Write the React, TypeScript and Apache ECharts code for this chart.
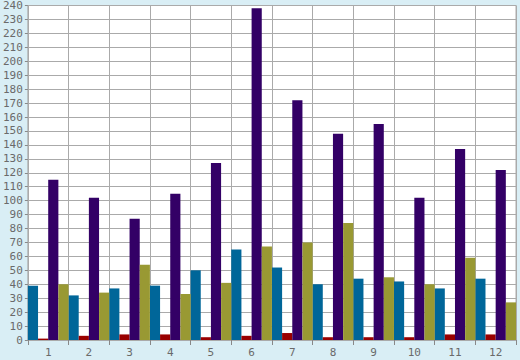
import React, { useEffect, useRef } from "react";
import * as echarts from "echarts";

const categories = ["1", "2", "3", "4", "5", "6", "7", "8", "9", "10", "11", "12"];
const blueValues = [39, 32, 37, 39, 50, 65, 52, 40, 44, 42, 37, 44];
const redValues = [1, 3, 4, 4, 2, 3, 5, 2, 2, 2, 4, 4];
const purpleValues = [115, 102, 87, 105, 127, 238, 172, 148, 155, 102, 137, 122];
const oliveValues = [40, 34, 54, 33, 41, 67, 70, 84, 45, 40, 59, 27];

export default function App() {
  const ref = useRef<HTMLDivElement>(null);
  useEffect(() => {
    if (!ref.current) return;
    const chart = echarts.init(ref.current, undefined, { renderer: "svg" });
    const mk = (name: string, data: number[], color: string) => ({
      name,
      type: "bar",
      data,
      barGap: "0%",
      barCategoryGap: "0%",
      itemStyle: { color },
    });
    chart.setOption({
      animation: false,
      backgroundColor: "#d9eef5",
      grid: {
        left: 26,
        right: 4,
        top: 5,
        bottom: 20,
        show: true,
        backgroundColor: "#ffffff",
        borderColor: "#aaaaaa",
        borderWidth: 1,
      },
      xAxis: {
        type: "category",
        data: categories,
        axisLine: { show: true, lineStyle: { color: "#aaaaaa" } },
        axisTick: { show: true, length: 5, lineStyle: { color: "#888888" } },
        splitLine: { show: true, lineStyle: { color: "#aaaaaa", width: 1 } },
        axisLabel: {
          color: "#6a6a6a",
          fontFamily: "DejaVu Sans Mono",
          fontSize: 11,
          margin: 7,
        },
      },
      yAxis: {
        type: "value",
        min: 0,
        max: 240,
        interval: 10,
        axisLine: { show: true, lineStyle: { color: "#aaaaaa" } },
        axisTick: { show: true, length: 3, lineStyle: { color: "#888888" } },
        splitLine: { show: true, lineStyle: { color: "#aaaaaa", width: 1 } },
        axisLabel: {
          color: "#6a6a6a",
          fontFamily: "DejaVu Sans Mono",
          fontSize: 11,
          margin: 5,
        },
      },
      series: [
        mk("Blue", blueValues, "#006699"),
        mk("Red", redValues, "#990000"),
        mk("Purple", purpleValues, "#330066"),
        mk("Olive", oliveValues, "#999933"),
      ],
    });
    return () => chart.dispose();
  }, []);
  return (
    <div
      ref={ref}
      style={{ position: "fixed", left: 0, top: 0, width: 520, height: 360 }}
    />
  );
}
